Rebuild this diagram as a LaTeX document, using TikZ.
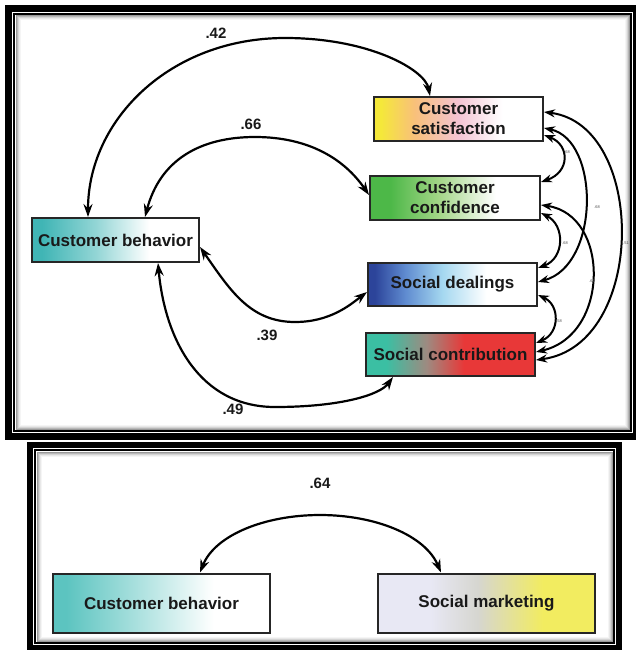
\documentclass[tikz,border=0pt]{standalone}
\usepackage{fontspec}
\setmainfont{Liberation Sans}
\usetikzlibrary{arrows.meta}
\definecolor{satY}{HTML}{F5E83A}
\definecolor{satO}{HTML}{F8C07A}
\definecolor{satP}{HTML}{F4C4D4}
\definecolor{confG}{HTML}{4DB848}
\definecolor{confL}{HTML}{A2D586}
\definecolor{dealB}{HTML}{2C449A}
\definecolor{dealM}{HTML}{5F8BD0}
\definecolor{dealL}{HTML}{A5D8F0}
\definecolor{conT}{HTML}{3BBFA3}
\definecolor{conG}{HTML}{9E8A80}
\definecolor{conR}{HTML}{E83838}
\definecolor{cbT}{HTML}{40B5B5}
\definecolor{cbL}{HTML}{92D5D5}
\definecolor{cbbT}{HTML}{5CC4C0}
\definecolor{smW}{HTML}{E8E8F4}
\definecolor{smG}{HTML}{D6D6D0}
\definecolor{smY}{HTML}{F2EC60}
\pgfdeclarehorizontalshading{satsh}{100bp}{color(0bp)=(satY); color(25bp)=(satY); color(27bp)=(satY); color(37bp)=(satO); color(50bp)=(satP); color(63bp)=(white); color(100bp)=(white)}
\pgfdeclarehorizontalshading{confsh}{100bp}{color(0bp)=(confG); color(25bp)=(confG); color(31bp)=(confG); color(45bp)=(confL); color(62bp)=(white); color(100bp)=(white)}
\pgfdeclarehorizontalshading{dealsh}{100bp}{color(0bp)=(dealB); color(25bp)=(dealB); color(27bp)=(dealB); color(36bp)=(dealM); color(47bp)=(dealL); color(60bp)=(white); color(100bp)=(white)}
\pgfdeclarehorizontalshading{consh}{100bp}{color(0bp)=(conT); color(25bp)=(conT); color(31bp)=(conT); color(43bp)=(conG); color(54bp)=(conR); color(100bp)=(conR)}
\pgfdeclarehorizontalshading{cbsh}{100bp}{color(0bp)=(cbT); color(25bp)=(cbT); color(28bp)=(cbT); color(44bp)=(cbL); color(60bp)=(white); color(100bp)=(white)}
\pgfdeclarehorizontalshading{cbbsh}{100bp}{color(0bp)=(cbbT); color(25bp)=(cbbT); color(28bp)=(cbbT); color(62bp)=(white); color(100bp)=(white)}
\pgfdeclarehorizontalshading{smsh}{100bp}{color(0bp)=(smW); color(25bp)=(smW); color(37bp)=(smW); color(48bp)=(smG); color(63bp)=(smY); color(100bp)=(smY)}
\begin{document}
\begin{tikzpicture}[x=1pt,y=-1pt,
  box/.style={draw=black!85, line width=2pt, inner sep=0pt, minimum height=44pt,
    font=\fontsize{17}{20}\selectfont\bfseries, text=black!90, align=center},
  conn/.style={line width=2.2pt, {Stealth[length=13pt,width=9pt]}-{Stealth[length=13pt,width=9pt]}},
  thinconn/.style={line width=2pt, {Stealth[length=11pt,width=8pt]}-{Stealth[length=11pt,width=8pt]}},
  lab/.style={font=\fontsize{15}{15}\selectfont\bfseries, text=black!90},
  tinylab/.style={font=\fontsize{4}{4}\selectfont, text=black!70, inner sep=0pt}]
\path[use as bounding box] (0,0) rectangle (636,650);
\clip (0,0) rectangle (636,650);
% top panel frame
\draw[line width=7pt] (8.5,8.5) rectangle (636.5,436.5);
\draw[line width=1.6pt] (14,14) rectangle (631,431);
\draw[line width=1pt, black!40] (16,16) rectangle (629,429);
\draw[line width=1pt, black!28] (17,17) rectangle (628,428);
\draw[line width=1pt, black!17] (18,18) rectangle (627,427);
\draw[line width=1pt, black!9] (19,19) rectangle (626,426);
\draw[line width=1pt, black!4] (20,20) rectangle (625,425);
% bottom panel frame
\draw[line width=6pt] (30,445) rectangle (619,648);
\draw[line width=1.5pt] (35,450) rectangle (614,643);
\draw[line width=1pt, black!40] (37,452) rectangle (612,641);
\draw[line width=1pt, black!28] (38,453) rectangle (611,640);
\draw[line width=1pt, black!17] (39,454) rectangle (610,639);
\draw[line width=1pt, black!9] (40,455) rectangle (609,638);
\draw[line width=1pt, black!4] (41,456) rectangle (608,637);
% nodes
\node[box, shading=satsh, minimum width=169pt] (sat) at (458.5,119) {Customer\\satisfaction};
\node[box, shading=confsh, minimum width=170pt] (conf) at (455,198) {Customer\\confidence};
\node[box, shading=dealsh, minimum width=169pt, minimum height=43pt] (deal) at (452.5,284.5) {Social dealings};
\node[box, shading=consh, minimum width=169pt, minimum height=43pt] (contr) at (450.5,354.5) {Social contribution};
\node[box, shading=cbsh, minimum width=167pt] (cb) at (115.5,240) {Customer behavior};
\node[box, shading=cbbsh, minimum width=217pt, minimum height=59pt] (cbb) at (161.5,603) {Customer behavior};
\node[box, shading=smsh, minimum width=217pt, minimum height=59pt] (sm) at (486.5,603) {Social marketing};
% left arcs
\draw[conn] ([xshift=-27.5pt]cb.north) .. controls (88,120) and (170,38) .. (285,38) .. controls (370,38) and (425,70) .. ([xshift=-28.5pt]sat.north);
\draw[conn] ([xshift=29.5pt]cb.north) .. controls (160,160) and (200,137) .. (255,137) .. controls (310,137) and (345,160) .. ([yshift=3pt]conf.west);
\draw[conn] ([yshift=-7pt]cb.east) .. controls (230,290) and (250,322) .. (295,322) .. controls (330,322) and (350,305) .. ([yshift=-7.5pt]deal.west);
\draw[conn] ([xshift=42.5pt]cb.south) .. controls (165,340) and (200,407) .. (275,407) .. controls (340,407) and (380,395) .. ([xshift=-57.5pt]contr.south);
\draw[conn] ([xshift=38.5pt]cbb.north) .. controls (215,535) and (265,515) .. (320,515) .. controls (375,515) and (425,535) .. ([xshift=-45.5pt]sm.north);
\node[lab] (l42) at (216,33) {.42};
\node[lab] (l66) at (251,124) {.66};
\node[lab] (l39) at (267,335) {.39};
\node[lab] (l49) at (233,409) {.49};
\node[lab] (l64) at (320,483) {.64};
% right arcs
\draw[thinconn] ([yshift=-16pt]sat.east) .. controls (570,145) and (570,172) .. ([yshift=16pt]conf.east);
\draw[thinconn] ([yshift=-9pt]sat.east) .. controls (600,140) and (600,265) .. ([yshift=2.5pt]deal.east);
\draw[thinconn] ([yshift=7pt]sat.east) .. controls (647,125) and (647,345) .. ([yshift=-5.5pt]contr.east);
\draw[thinconn] ([yshift=-15pt]conf.east) .. controls (565,225) and (565,258) .. ([yshift=16.5pt]deal.east);
\draw[thinconn] ([yshift=-7pt]conf.east) .. controls (610,215) and (610,335) .. ([yshift=2.5pt]contr.east);
\draw[thinconn] ([yshift=-10.5pt]deal.east) .. controls (560,305) and (560,333) .. ([yshift=11.5pt]contr.east);
\node[tinylab] (t1) at (567,152) {.68};
\node[tinylab] (t2) at (597,207) {.68};
\node[tinylab] (t3) at (626,243) {.51};
\node[tinylab] (t4) at (565,243) {.68};
\node[tinylab] (t5) at (592,281) {.61};
\node[tinylab] (t6) at (559,321) {.58};
\end{tikzpicture}
\end{document}
